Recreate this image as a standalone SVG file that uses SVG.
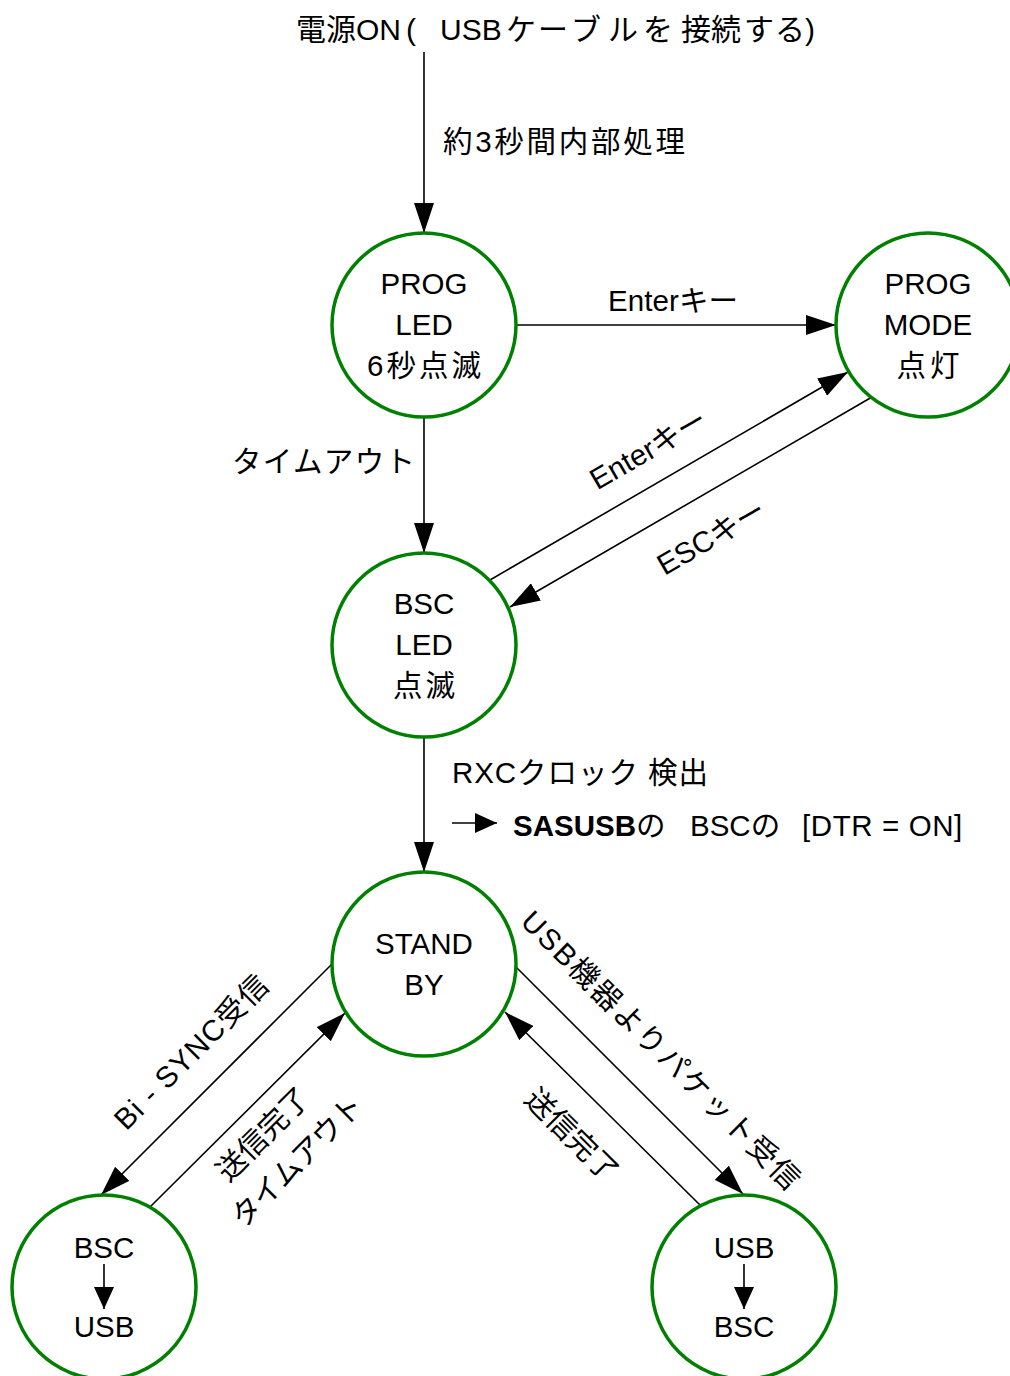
<svg xmlns="http://www.w3.org/2000/svg" width="1010" height="1376" viewBox="0 0 1010 1376">
<style>
text{font-family:"Liberation Sans","Noto Sans CJK JP",sans-serif;font-size:29.5px;fill:#000}
.c{text-anchor:middle}
.r{text-anchor:middle;dominant-baseline:central}
.t{font-size:30px}
.node circle{fill:#fff;stroke:#008000;stroke-width:3.5}
.edge{stroke:#000;stroke-width:1.6;fill:none}
</style>
<defs>
<marker id="ah" markerWidth="30" markerHeight="20" refX="30" refY="10" orient="auto" markerUnits="userSpaceOnUse"><path d="M0,0 L30,10 L0,20 z" fill="#000"/></marker>
<marker id="ahs" markerWidth="22" markerHeight="20" refX="22" refY="10" orient="auto" markerUnits="userSpaceOnUse"><path d="M0,0 L22,10 L0,20 z" fill="#000"/></marker>
</defs>
<rect width="1010" height="1376" fill="#fff"/>

<g id="connectors">
<line class="edge" x1="424" y1="52" x2="424" y2="233" marker-end="url(#ah)"/>
<line class="edge" x1="516" y1="325" x2="836" y2="325" marker-end="url(#ah)"/>
<line class="edge" x1="490" y1="580" x2="848" y2="372" marker-end="url(#ah)"/>
<line class="edge" x1="872" y1="397" x2="510" y2="607" marker-end="url(#ah)"/>
<line class="edge" x1="424" y1="417" x2="424" y2="553" marker-end="url(#ah)"/>
<line class="edge" x1="424" y1="737" x2="424" y2="872" marker-end="url(#ah)"/>
<line class="edge" x1="333" y1="963" x2="101" y2="1195" marker-end="url(#ah)"/>
<line class="edge" x1="150" y1="1207" x2="345" y2="1013" marker-end="url(#ah)"/>
<line class="edge" x1="516" y1="967" x2="743" y2="1194" marker-end="url(#ah)"/>
<line class="edge" x1="700" y1="1205" x2="505" y2="1012" marker-end="url(#ah)"/>

<text class="t" y="40"><tspan x="296">電源ON</tspan><tspan x="406">(</tspan><tspan x="440">USB</tspan><tspan x="506">ケ</tspan><tspan x="538">ー</tspan><tspan x="571">ブ</tspan><tspan x="608">ル</tspan><tspan x="643">を</tspan><tspan x="681">接続</tspan><tspan x="744">す</tspan><tspan x="775">る</tspan><tspan x="805">)</tspan></text>
<text x="443" y="152" textLength="242" lengthAdjust="spacing">約3秒間内部処理</text>
<text x="608" y="311" textLength="130" lengthAdjust="spacing">Enterキー</text>
<text x="232" y="472" textLength="183" lengthAdjust="spacing">タイムアウト</text>
<text x="452" y="783" textLength="256" lengthAdjust="spacing">RXCクロック 検出</text>
<line class="edge" x1="452" y1="823" x2="497" y2="823" marker-end="url(#ahs)"/>
<text x="513" y="836"><tspan font-weight="bold">SASUSB</tspan><tspan>の</tspan><tspan x="690">BSCの</tspan><tspan x="802" letter-spacing="0.6">[DTR = ON]</tspan></text>
<text class="r" transform="translate(648,449) rotate(-30)">Enterキー</text>
<text class="r" transform="translate(711,537) rotate(-30)">ESCキー</text>
<text class="r" transform="translate(191,1052) rotate(-45)" textLength="204" lengthAdjust="spacing">Bi - SYNC受信</text>
<text class="r" transform="translate(263,1134) rotate(-45)">送信完了</text>
<text class="r" transform="translate(297,1161) rotate(-45)" textLength="172" lengthAdjust="spacing">タイムアウト</text>
<text class="r" transform="translate(661,1050) rotate(45)" textLength="380" lengthAdjust="spacing">USB機器よりパケット受信</text>
<text class="r" transform="translate(572,1135) rotate(45)">送信完了</text>
</g>

<g id="prog-led" class="node">
<circle cx="424" cy="325" r="92"/>
<text class="c" x="424" y="294">PROG</text>
<text class="c" x="424" y="335">LED</text>
<text class="c" x="424" y="376" textLength="114" lengthAdjust="spacing">6秒点滅</text>
</g>
<g id="prog-mode" class="node">
<circle cx="928" cy="325" r="92"/>
<text class="c" x="928" y="294">PROG</text>
<text class="c" x="928" y="335">MODE</text>
<text class="c" x="928" y="376" textLength="63" lengthAdjust="spacing">点灯</text>
</g>
<g id="bsc-led" class="node">
<circle cx="424" cy="645" r="92"/>
<text class="c" x="424" y="614">BSC</text>
<text class="c" x="424" y="655">LED</text>
<text class="c" x="424" y="696" textLength="62" lengthAdjust="spacing">点滅</text>
</g>
<g id="standby" class="node">
<circle cx="424" cy="964" r="92"/>
<text class="c" x="424" y="954">STAND</text>
<text class="c" x="424" y="995">BY</text>
</g>
<g id="bsc-usb" class="node">
<circle cx="104" cy="1287" r="92"/>
<text class="c" x="104" y="1258">BSC</text>
<line class="edge" x1="104" y1="1264" x2="104" y2="1309" marker-end="url(#ahs)"/>
<text class="c" x="104" y="1337">USB</text>
</g>
<g id="usb-bsc" class="node">
<circle cx="744" cy="1287" r="92"/>
<text class="c" x="744" y="1258">USB</text>
<line class="edge" x1="744" y1="1264" x2="744" y2="1309" marker-end="url(#ahs)"/>
<text class="c" x="744" y="1337">BSC</text>
</g>
</svg>
